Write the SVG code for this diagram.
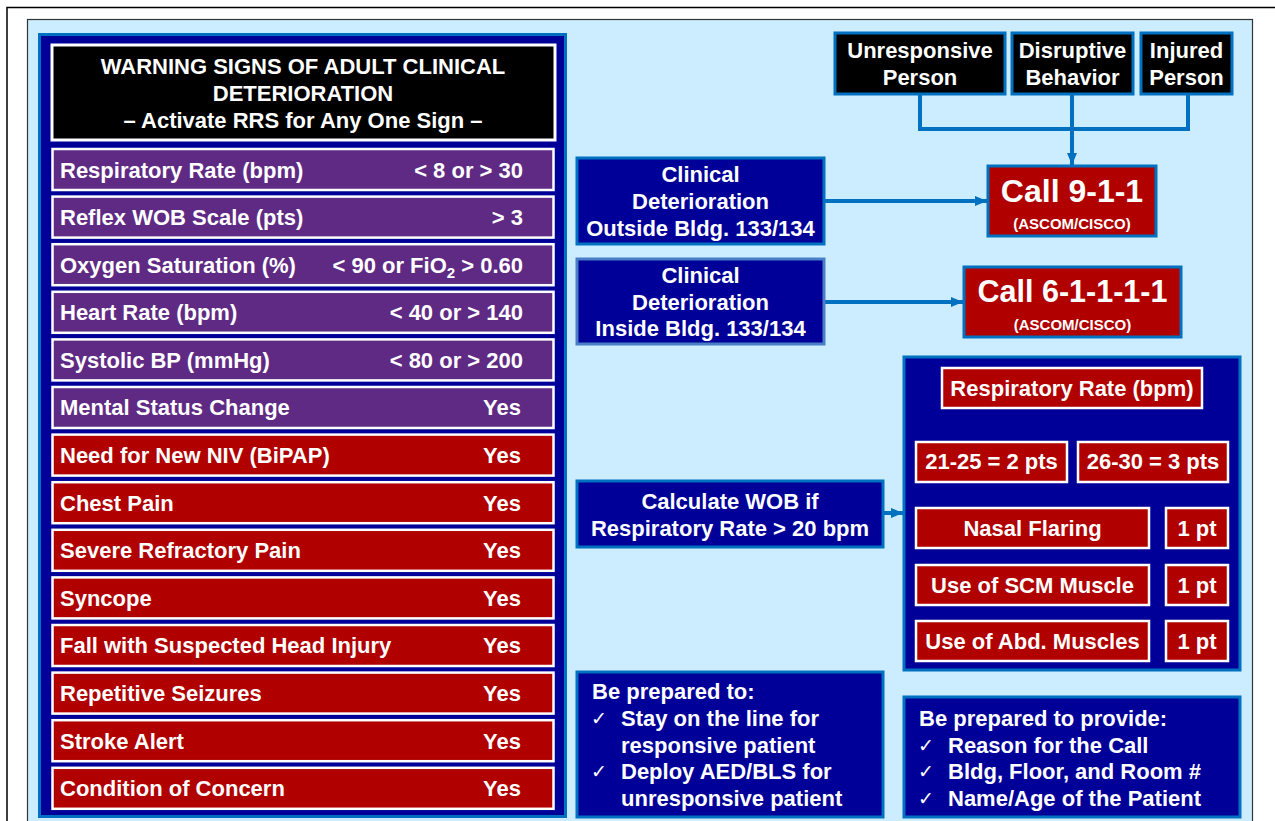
<svg xmlns="http://www.w3.org/2000/svg" width="1275" height="821" viewBox="0 0 1275 821">
<defs>
<style>
text{font-family:"Liberation Sans",Arial,sans-serif;font-weight:bold;fill:#fff;font-size:22px}
.c{text-anchor:middle}
.e{text-anchor:end}
.ck{font-family:"DejaVu Sans",sans-serif;font-weight:normal;font-size:19px}
.big{font-size:32px}
.big2{font-size:30.5px}
.small{font-size:15px}
.purple{fill:#5F2A84;stroke:#fff;stroke-width:2.5}
.red{fill:#B00000;stroke:#fff;stroke-width:2.5}
.navy{fill:#000099;stroke:#0070C0;stroke-width:3}
.blk{fill:#000;stroke:#0070C0;stroke-width:3}
.call{fill:#B00000;stroke:#0070C0;stroke-width:3}
.conn{fill:none;stroke:#0070C0;stroke-width:4}
.wconn{fill:none;stroke:#fff;stroke-width:3}
</style>
<marker id="ab" markerUnits="userSpaceOnUse" markerWidth="12" markerHeight="12" viewBox="0 0 12 12" refX="12" refY="6" orient="auto"><path d="M0,1 L12,6 L0,11 Z" fill="#0070C0"/></marker>
<marker id="aw" markerUnits="userSpaceOnUse" markerWidth="12" markerHeight="12" viewBox="0 0 12 12" refX="12" refY="6" orient="auto"><path d="M0,1 L12,6 L0,11 Z" fill="#fff"/></marker>
</defs>
<rect x="0" y="0" width="1275" height="821" fill="#fff"/>
<rect x="7" y="7.5" width="1290" height="830" fill="#fff" stroke="#000" stroke-width="1.5"/>
<rect x="27.5" y="19.5" width="1225" height="820" fill="#CCECFF" stroke="#333" stroke-width="1.2"/>

<g id="left-panel">
<rect x="39.5" y="34.5" width="526" height="782" class="navy"/>
<g id="header">
<rect x="52" y="45" width="503" height="95" fill="#000" stroke="#fff" stroke-width="3"/>
<text x="303" y="74" class="c">WARNING SIGNS OF ADULT CLINICAL</text>
<text x="303" y="101" class="c">DETERIORATION</text>
<text x="303" y="128" class="c">– Activate RRS for Any One Sign –</text>
</g>
<g id="row-rr"><rect x="52.5" y="149" width="501" height="41" class="purple"/><text x="60" y="177.5">Respiratory Rate (bpm)</text><text x="523" y="177.5" class="e">&lt; 8 or &gt; 30</text></g>
<g id="row-wob"><rect x="52.5" y="196.6" width="501" height="41" class="purple"/><text x="60" y="225">Reflex WOB Scale (pts)</text><text x="523" y="225" class="e">&gt; 3</text></g>
<g id="row-o2"><rect x="52.5" y="244.2" width="501" height="41" class="purple"/><text x="60" y="272.6">Oxygen Saturation (%)</text><text x="523" y="272.6" class="e">&lt; 90 or FiO<tspan dy="5" style="font-size:15px">2</tspan><tspan dy="-5"> &gt; 0.60</tspan></text></g>
<g id="row-hr"><rect x="52.5" y="291.8" width="501" height="41" class="purple"/><text x="60" y="320.2">Heart Rate (bpm)</text><text x="523" y="320.2" class="e">&lt; 40 or &gt; 140</text></g>
<g id="row-bp"><rect x="52.5" y="339.4" width="501" height="41" class="purple"/><text x="60" y="367.8">Systolic BP (mmHg)</text><text x="523" y="367.8" class="e">&lt; 80 or &gt; 200</text></g>
<g id="row-ms"><rect x="52.5" y="387" width="501" height="41" class="purple"/><text x="60" y="415.4">Mental Status Change</text><text x="521" y="415.4" class="e">Yes</text></g>
<g id="row-niv"><rect x="52.5" y="434.6" width="501" height="41" class="red"/><text x="60" y="463">Need for New NIV (BiPAP)</text><text x="521" y="463" class="e">Yes</text></g>
<g id="row-chest"><rect x="52.5" y="482.2" width="501" height="41" class="red"/><text x="60" y="510.6">Chest Pain</text><text x="521" y="510.6" class="e">Yes</text></g>
<g id="row-pain"><rect x="52.5" y="529.8" width="501" height="41" class="red"/><text x="60" y="558.2">Severe Refractory Pain</text><text x="521" y="558.2" class="e">Yes</text></g>
<g id="row-sync"><rect x="52.5" y="577.4" width="501" height="41" class="red"/><text x="60" y="605.8">Syncope</text><text x="521" y="605.8" class="e">Yes</text></g>
<g id="row-fall"><rect x="52.5" y="625" width="501" height="41" class="red"/><text x="60" y="653.4">Fall with Suspected Head Injury</text><text x="521" y="653.4" class="e">Yes</text></g>
<g id="row-seiz"><rect x="52.5" y="672.6" width="501" height="41" class="red"/><text x="60" y="701">Repetitive Seizures</text><text x="521" y="701" class="e">Yes</text></g>
<g id="row-stroke"><rect x="52.5" y="720.2" width="501" height="41" class="red"/><text x="60" y="748.6">Stroke Alert</text><text x="521" y="748.6" class="e">Yes</text></g>
<g id="row-concern"><rect x="52.5" y="767.8" width="501" height="41" class="red"/><text x="60" y="796.2">Condition of Concern</text><text x="521" y="796.2" class="e">Yes</text></g>
</g>

<g id="connectors">
<path d="M920,94 V129 H1188 V94" class="conn"/>
<path d="M1072,94 V165" class="conn" marker-end="url(#ab)"/>
<path d="M824,201 H987" class="conn" marker-end="url(#ab)"/>
<path d="M824,302 H963" class="conn" marker-end="url(#ab)"/>
<path d="M883,513 H903" class="conn" marker-end="url(#ab)"/>
<path d="M1072,408 V427" class="wconn"/>
<path d="M991,441 V427 H1153 V441" class="wconn"/>
<path d="M991,430 V441" class="wconn" marker-end="url(#aw)"/>
<path d="M1153,430 V441" class="wconn" marker-end="url(#aw)"/>
<path d="M1149,528 H1166 M1149,585 H1166 M1149,641 H1166" class="wconn"/>
</g>

<g id="unresponsive"><rect x="835" y="33" width="170" height="61" class="blk"/><text x="920" y="58" class="c">Unresponsive</text><text x="920" y="85" class="c">Person</text></g>
<g id="disruptive"><rect x="1012" y="33" width="121" height="61" class="blk"/><text x="1072.5" y="58" class="c">Disruptive</text><text x="1072.5" y="85" class="c">Behavior</text></g>
<g id="injured"><rect x="1141" y="33" width="91" height="61" class="blk"/><text x="1186.5" y="58" class="c">Injured</text><text x="1186.5" y="85" class="c">Person</text></g>

<g id="call911"><rect x="988" y="166" width="168" height="70" class="call"/><text x="1072" y="202" class="c big">Call 9-1-1</text><text x="1072" y="229" class="c small">(ASCOM/CISCO)</text></g>
<g id="call61111"><rect x="964" y="267" width="217" height="70" class="call"/><text x="1072.5" y="302" class="c big2">Call 6-1-1-1-1</text><text x="1072.5" y="330" class="c small">(ASCOM/CISCO)</text></g>

<g id="outside"><rect x="577" y="158" width="247" height="86" class="navy"/><text x="700.5" y="182" class="c">Clinical</text><text x="700.5" y="209" class="c">Deterioration</text><text x="700.5" y="236" class="c">Outside Bldg. 133/134</text></g>
<g id="inside"><rect x="577" y="259" width="247" height="85" class="navy" style="stroke:#4A7EC7"/><text x="700.5" y="283" class="c">Clinical</text><text x="700.5" y="310" class="c">Deterioration</text><text x="700.5" y="336" class="c">Inside Bldg. 133/134</text></g>

<g id="calc-wob"><rect x="577" y="481" width="306" height="66" class="navy"/><text x="730" y="509" class="c">Calculate WOB if</text><text x="730" y="536" class="c">Respiratory Rate &gt; 20 bpm</text></g>

<g id="wob-scale">
<rect x="904" y="357" width="336" height="313" class="navy"/>
<g id="wob-rr"><rect x="942" y="368" width="260" height="40" class="red"/><text x="1072" y="396" class="c">Respiratory Rate (bpm)</text></g>
<g id="wob-2pts"><rect x="916" y="442" width="151" height="40" class="red"/><text x="991.5" y="469" class="c">21-25 = 2 pts</text></g>
<g id="wob-3pts"><rect x="1078" y="442" width="150" height="40" class="red"/><text x="1153" y="469" class="c">26-30 = 3 pts</text></g>
<g id="wob-nasal"><rect x="916" y="508" width="233" height="40" class="red"/><text x="1032.5" y="536" class="c">Nasal Flaring</text></g>
<g id="wob-nasal-pt"><rect x="1166" y="508" width="62" height="40" class="red"/><text x="1197" y="536" class="c">1 pt</text></g>
<g id="wob-scm"><rect x="916" y="565" width="233" height="40" class="red"/><text x="1032.5" y="593" class="c">Use of SCM Muscle</text></g>
<g id="wob-scm-pt"><rect x="1166" y="565" width="62" height="40" class="red"/><text x="1197" y="593" class="c">1 pt</text></g>
<g id="wob-abd"><rect x="916" y="621" width="233" height="40" class="red"/><text x="1032.5" y="649" class="c">Use of Abd. Muscles</text></g>
<g id="wob-abd-pt"><rect x="1166" y="621" width="62" height="40" class="red"/><text x="1197" y="649" class="c">1 pt</text></g>
</g>

<g id="prepared-to"><rect x="577" y="672" width="306" height="145" class="navy"/>
<text x="592" y="699">Be prepared to:</text>
<text x="591" y="725" class="ck">✓</text><text x="621" y="726">Stay on the line for</text>
<text x="621" y="752.5">responsive patient</text>
<text x="591" y="778" class="ck">✓</text><text x="621" y="779">Deploy AED/BLS for</text>
<text x="621" y="805.5">unresponsive patient</text>
</g>

<g id="prepared-provide"><rect x="904" y="697" width="336" height="120" class="navy"/>
<text x="919" y="726">Be prepared to provide:</text>
<text x="918" y="751.5" class="ck">✓</text><text x="948" y="752.5">Reason for the Call</text>
<text x="918" y="778" class="ck">✓</text><text x="948" y="779">Bldg, Floor, and Room #</text>
<text x="918" y="804.5" class="ck">✓</text><text x="948" y="805.5">Name/Age of the Patient</text>
</g>
</svg>
